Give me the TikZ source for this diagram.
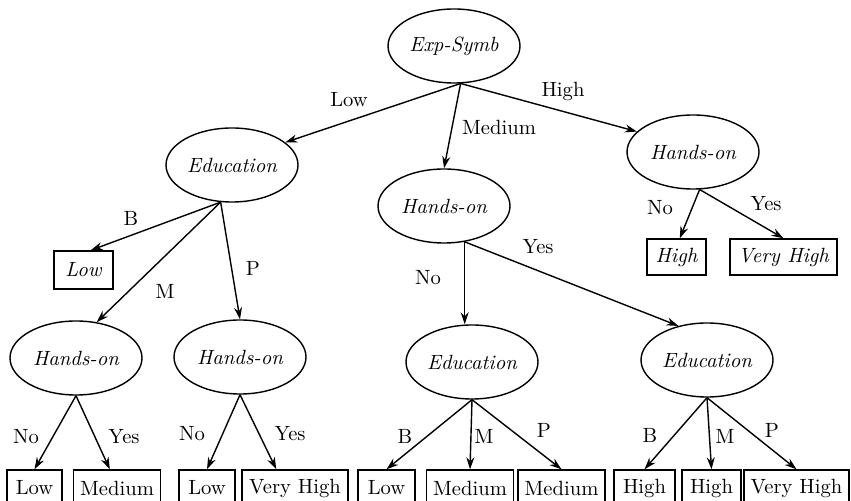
\documentclass[tikz,border=0pt]{standalone}
\usepackage{fontspec}
\usetikzlibrary{arrows.meta, shapes.geometric}
\tikzset{
  attr/.style={ellipse, draw, minimum width=66pt, minimum height=37pt, inner sep=0pt, font=\rmfamily\fontsize{10.3}{12}\selectfont\itshape},
  leaf/.style={rectangle, draw, minimum height=18pt, inner xsep=3.3pt, inner ysep=0pt, font=\rmfamily\fontsize{10.3}{12}\selectfont},
  ileaf/.style={leaf, font=\rmfamily\fontsize{10.3}{12}\selectfont\itshape},
  branch/.style={-{Stealth[length=6pt, width=4pt]}},
  lbl/.style={inner sep=0pt, font=\rmfamily\fontsize{10.3}{12}\selectfont},
}
\begin{document}
\begin{tikzpicture}[x=0.5pt, y=-0.5pt, line width=0.7pt]
\useasboundingbox (0,0) rectangle (851,501);
\clip (0,0) rectangle (851,501);
% attribute nodes
\node[attr] (root) at (454,46) {Exp-Symb};
\node[attr] (edu) at (232,165) {Education};
\node[attr] (hm) at (444,206) {Hands-on};
\node[attr] (hr) at (693,152) {Hands-on};
\node[attr] (hl) at (76,358) {Hands-on};
\node[attr] (hp) at (240,357) {Hands-on};
\node[attr] (em) at (472,362) {Education};
\node[attr] (er) at (707,360) {Education};
% leaves
\node[ileaf, minimum height=19pt, minimum width=29.5pt] (lowi) at (83.5,270) {Low};
\node[ileaf, minimum width=29.5pt] (hii) at (676.5,257) {High};
\node[ileaf, minimum width=53.5pt] (vhi) at (783.5,257) {Very High};
\node[leaf, minimum width=27.5pt] (low1) at (34.5,488) {Low};
\node[leaf] (med1) at (117,488) {Medium};
\node[leaf, minimum width=28pt] (low2) at (207,488) {Low};
\node[leaf, minimum width=53pt] (vh1) at (295,488) {Very High};
\node[leaf, minimum width=28.5pt] (low3) at (386.5,488) {Low};
\node[leaf] (med2) at (470,488) {Medium};
\node[leaf] (med3) at (561.5,488) {Medium};
\node[leaf, minimum width=30.5pt] (hi1) at (644.5,488) {High};
\node[leaf, minimum width=29.5pt] (hi2) at (711.5,488) {High};
\node[leaf, minimum width=51.5pt] (vh2) at (796.5,488) {Very High};
% branches
\draw[branch] (root.-80) -- (edu.23);
\draw[branch] (root.-80) -- (hm.north);
\draw[branch] (root.-80) -- (hr.160);
\draw[branch] (edu.-107) -- (lowi.70);
\draw[branch] (edu.-107) -- (hl.60);
\draw[branch] (edu.-107) -- (hp.north);
\draw[branch] (hm.-60) -- (hm.-60 |- em.north);
\draw[branch] (hm.-60) -- (er.130);
\draw[branch] (hr.-80) -- (hii.80);
\draw[branch] (hr.-80) -- (vhi.north);
\draw[branch] (hl.south) -- (low1.north);
\draw[branch] (hl.south) -- (med1.111);
\draw[branch] (hp.south) -- (low2.north);
\draw[branch] (hp.south) -- (vh1.135);
\draw[branch] (em.south) -- (low3.north);
\draw[branch] (em.south) -- (med2.north);
\draw[branch] (em.south) -- (med3.north);
\draw[branch] (er.south) -- (hi1.north);
\draw[branch] (er.south) -- (hi2.north);
\draw[branch] (er.south) -- (vh2.north);
% branch labels
\node[lbl] (l1) at (349,100) {Low};
\node[lbl] (l2) at (499,127) {Medium};
\node[lbl] (l3) at (563,91) {High};
\node[lbl] (l4) at (131,218) {B};
\node[lbl] (l5) at (165,291) {M};
\node[lbl] (l6) at (253,268) {P};
\node[lbl] (l7) at (428,278) {No};
\node[lbl] (l8) at (538,247) {Yes};
\node[lbl] (l9) at (660,208) {No};
\node[lbl] (l10) at (766,204) {Yes};
\node[lbl] (l11) at (26,437) {No};
\node[lbl] (l12) at (124,437) {Yes};
\node[lbl] (l13) at (192,434) {No};
\node[lbl] (l14) at (290,434) {Yes};
\node[lbl] (l15) at (405,436) {B};
\node[lbl] (l16) at (484,436) {M};
\node[lbl] (l17) at (544,430) {P};
\node[lbl] (l18) at (650,435) {B};
\node[lbl] (l19) at (725,436) {M};
\node[lbl] (l20) at (772,430) {P};
\end{tikzpicture}
\end{document}
